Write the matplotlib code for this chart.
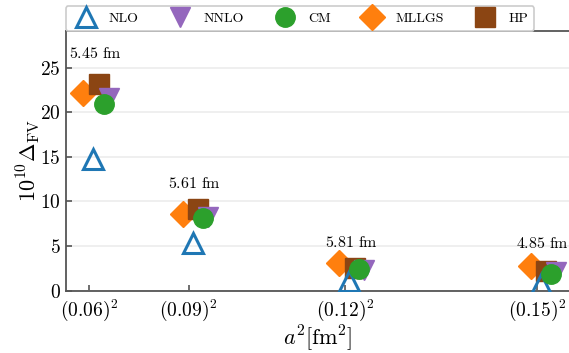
import matplotlib
matplotlib.use("Agg")
import matplotlib.pyplot as plt
import numpy as np

plt.rcParams['font.family'] = 'serif'
plt.rcParams['font.serif'] = ['cmr10']
plt.rcParams['mathtext.fontset'] = 'cm'
plt.rcParams['axes.formatter.use_mathtext'] = True

# lattice spacings (fm) and their labels
a_vals = [0.06, 0.0883, 0.12, 0.15]
a_labels = [r'$(0.06)^2$', r'$(0.09)^2$', r'$(0.12)^2$', r'$(0.15)^2$']
box_labels = [r'$5.45\ \mathrm{fm}$', r'$5.61\ \mathrm{fm}$', r'$5.81\ \mathrm{fm}$', r'$4.85\ \mathrm{fm}$']
box_label_y = [26.6, 12.0, 5.4, 5.3]

# 10^10 Delta_FV per method
nlo = [14.8, 5.4, 1.1, 0.8]
nnlo = [21.6, 8.3, 2.3, 2.1]
cm = [20.9, 8.1, 2.45, 1.85]
mllgs = [22.1, 8.6, 3.15, 2.8]
hp = [23.2, 9.2, 2.5, 2.25]

x = np.array(a_vals) ** 2

fig = plt.figure(figsize=(5.69, 3.53), dpi=100)
ax = fig.add_axes([0.1155, 0.1765, 0.8845, 0.7357])

ms = 14
ax.plot(x + 0.00017, nlo, '^', ms=ms, mfc='none', mec='#1f77b4', mew=2.2, ls='none', label='NLO', zorder=4)
ax.plot(x + 0.00082, nnlo, 'v', ms=ms, color='#9467bd', ls='none', label='NNLO', zorder=5)
ax.plot(x + 0.0006, cm, 'o', ms=ms, color='#2ca02c', ls='none', label='CM', zorder=6)
ax.plot(x - 0.00025, mllgs, 'D', ms=ms * 0.97, color='#ff7f0e', ls='none', label='MLLGS', zorder=2)
ax.plot(x + 0.0004, hp, 's', ms=ms, color='#8b4513', ls='none', label='HP', zorder=3)

for xi, lab, yi in zip(x, box_labels, box_label_y):
    ax.text(xi + 0.00025, yi, lab, ha='center', va='center', fontsize=11.5)

ax.set_xlim(0.0026, 0.02386)
ax.set_ylim(0, 29.1)
ax.set_xticks(x)
ax.set_xticklabels(a_labels)
ax.set_yticks([0, 5, 10, 15, 20, 25])
ax.tick_params(direction='in', length=4, width=1.2, color='#555555', labelsize=14)
ax.tick_params(axis='x', pad=5)

ax.yaxis.grid(True, color='#eeeeee', lw=1.3)
ax.set_axisbelow(True)
for side in ['left', 'bottom', 'top']:
    ax.spines[side].set_color('#555555')
    ax.spines[side].set_linewidth(1.3)
ax.spines['right'].set_visible(False)

ax.set_xlabel(r'$a^2[\mathrm{fm}^2]$', fontsize=16, labelpad=0)
ax.set_ylabel(r'$10^{10}\Delta_{\mathrm{FV}}$', fontsize=16, labelpad=-1)

leg = ax.legend(ncol=5, loc='lower left', bbox_to_anchor=(0, 1.0), borderaxespad=0,
                fontsize=10, handlelength=2, handletextpad=0.65, columnspacing=2.0,
                borderpad=0.45, frameon=True, fancybox=True)
leg.get_frame().set_edgecolor('#cccccc')
leg.get_frame().set_linewidth(1.2)
leg.get_frame().set_alpha(1)
leg.set_zorder(10)

fig.savefig('out.png', dpi=100)
